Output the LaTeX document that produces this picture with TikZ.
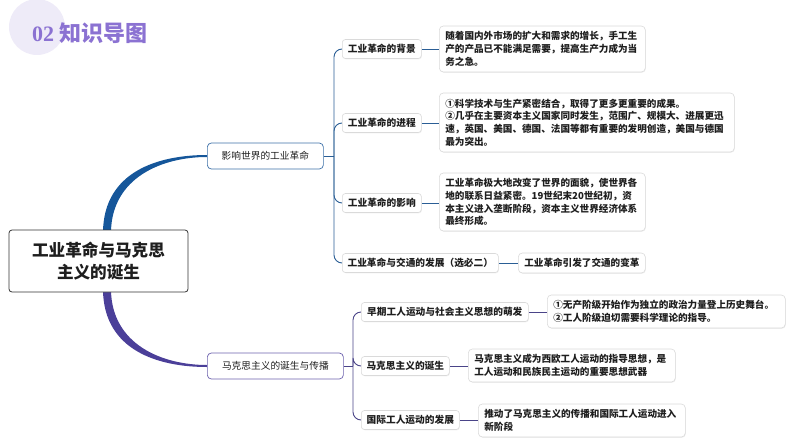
\documentclass[tikz,border=0pt]{standalone}
\usepackage{fontspec}
\setmainfont{Noto Sans CJK SC}
\newfontfamily\numfont{Liberation Serif}
\usetikzlibrary{calc,shadows}
\pgfdeclarelayer{background}
\pgfsetlayers{background,main}
\definecolor{blueA}{HTML}{15569A}
\definecolor{blueL}{HTML}{2A5E95}
\definecolor{blueB}{HTML}{3D70A8}
\definecolor{purA}{HTML}{4B3F99}
\definecolor{purL}{HTML}{4A4488}
\definecolor{purB}{HTML}{6D62AE}
\definecolor{rootc}{HTML}{333333}
\definecolor{boxc}{HTML}{DADADA}
\definecolor{titlec}{HTML}{8B72D2}
\definecolor{circc}{HTML}{EEEBF8}
\definecolor{txt}{HTML}{1E1E1E}
\tikzset{
  rootbox/.style={draw=rootc, line width=0.8pt, rounded corners=3pt, fill=white,
    minimum width=179pt, minimum height=62pt, inner sep=0pt, align=center,
    text=txt, font=\bfseries\fontsize{16.6}{22}\selectfont},
  lvlbox/.style={line width=0.7pt, rounded corners=4pt, fill=white,
    minimum height=26pt, inner sep=0pt, anchor=west, text=txt,
    font=\fontsize{9.7}{12}\selectfont},
  kidbox/.style={draw=boxc, line width=0.6pt, rounded corners=3pt, fill=white,
    minimum height=19pt, inner sep=0pt, anchor=west, text=txt,
    drop shadow={opacity=0.12, shadow xshift=0.6pt, shadow yshift=-0.8pt},
    font=\bfseries\fontsize{9.7}{12}\selectfont},
  detbox/.style={draw=boxc, line width=0.6pt, rounded corners=4pt, fill=white,
    inner xsep=6pt, inner ysep=0pt, anchor=west, align=left, text=txt,
    drop shadow={opacity=0.12, shadow xshift=0.6pt, shadow yshift=-0.8pt},
    font=\bfseries\fontsize{9.6}{12.8}\selectfont},
  linkA/.style={draw=blueL, line width=0.9pt},
  linkB/.style={draw=purL, line width=0.9pt},
}
\begin{document}
\begin{tikzpicture}[x=1pt,y=-1pt]
\useasboundingbox (0,0) rectangle (794,447);
% title
\fill[circc] (37,27) circle (28);
\node[anchor=west, text=titlec, inner sep=0pt, font=\bfseries\fontsize{22}{24}\selectfont] (title) at (32,33) {{\numfont\bfseries 02} 知识导图};

% root
\node[rootbox] (root) at (98.5,261) {工业革命与马克思\\主义的诞生};

% level 1
\node[lvlbox, draw=blueB, minimum width=116pt] (ind) at (207,156) {影响世界的工业革命};
\node[lvlbox, draw=purB, minimum width=136pt] (marx) at (207,366) {马克思主义的诞生与传播};

% level 2 top
\node[kidbox, minimum width=79pt] (bg) at (342,49) {工业革命的背景};
\node[kidbox, minimum width=79pt] (pr) at (342,123) {工业革命的进程};
\node[kidbox, minimum width=79pt] (ef) at (342,203) {工业革命的影响};
\node[kidbox, minimum width=156pt] (tr) at (342,263) {工业革命与交通的发展（选必二）};

% level 2 bottom
\node[kidbox, minimum width=167pt] (early) at (361,312) {早期工人运动与社会主义思想的萌发};
\node[kidbox, minimum width=88pt] (birth) at (361,366) {马克思主义的诞生};
\node[kidbox, minimum width=98pt] (intl) at (361,420) {国际工人运动的发展};

% details
\node[detbox, text width=194pt, minimum height=46pt] (dbg) at (439,49)
  {随着国内外市场的扩大和需求的增长，手工生\\产的产品已不能满足需要，提高生产力成为当\\务之急。};
\node[detbox, text width=283pt, minimum height=59pt] (dpr) at (439,122.5)
  {①科学技术与生产紧密结合，取得了更多更重要的成果。\\②几乎在主要资本主义国家同时发生，范围广、规模大、进展更迅\\速，英国、美国、德国、法国等都有重要的发明创造，美国与德国\\最为突出。};
\node[detbox, text width=194pt, minimum height=58pt] (def) at (439,202)
  {工业革命极大地改变了世界的面貌，使世界各\\地的联系日益紧密。19世纪末20世纪初，资\\本主义进入垄断阶段，资本主义世界经济体系\\最终形成。};
\node[detbox, text width=115pt, minimum height=20pt, align=center] (dtr) at (518,263)
  {工业革命引发了交通的变革};
\node[detbox, text width=226pt, minimum height=33pt] (dearly) at (547,311.5)
  {①无产阶级开始作为独立的政治力量登上历史舞台。\\②工人阶级迫切需要科学理论的指导。};
\node[detbox, text width=195pt, minimum height=33pt] (dbirth) at (468,365.5)
  {马克思主义成为西欧工人运动的指导思想，是\\工人运动和民族民主运动的重要思想武器};
\node[detbox, text width=195pt, minimum height=33pt] (dintl) at (478,420.5)
  {推动了马克思主义的传播和国际工人运动进入\\新阶段};

\begin{pgfonlayer}{background}
  % tapered main branches
  \coordinate (ta) at ($(root.north)+(4.5,2)$);
  \coordinate (tb) at ($(root.north)+(12.5,2)$);
  \fill[blueA] (ta) .. controls ($(ta)+(1,-60)$) and ($(ind.west)+(-49,-1)$) .. ($(ind.west)+(0,-1)$)
     -- ($(ind.west)+(0,1)$) .. controls ($(ind.west)+(-45,1)$) and ($(tb)+(1,-54)$) .. (tb) -- cycle;
  \coordinate (ba) at ($(root.south)+(4.5,-2)$);
  \coordinate (bb) at ($(root.south)+(12.5,-2)$);
  \fill[purA] (ba) .. controls ($(ba)+(1,60)$) and ($(marx.west)+(-49,1)$) .. ($(marx.west)+(0,1)$)
     -- ($(marx.west)+(0,-1)$) .. controls ($(marx.west)+(-45,-1)$) and ($(bb)+(1,54)$) .. (bb) -- cycle;
  % top sub-branches
  \coordinate (j1) at (334,156);
  \draw[linkA] (ind.east) -- (j1);
  \foreach \k in {bg,pr,ef,tr}{
    \draw[linkA, rounded corners=8pt] (j1) -- (j1 |- \k.west) -- (\k.west);
  }
  \draw[linkA] (bg.east) -- (dbg.west |- bg.east);
  \draw[linkA] (pr.east) -- (dpr.west |- pr.east);
  \draw[linkA] (ef.east) -- (def.west |- ef.east);
  \draw[linkA] (tr.east) -- (dtr.west |- tr.east);
  % bottom sub-branches
  \coordinate (j2) at (353,366);
  \draw[linkB] (marx.east) -- (j2);
  \foreach \k in {early,birth,intl}{
    \draw[linkB, rounded corners=8pt] (j2) -- (j2 |- \k.west) -- (\k.west);
  }
  \draw[linkB] (early.east) -- (dearly.west |- early.east);
  \draw[linkB] (birth.east) -- (dbirth.west |- birth.east);
  \draw[linkB] (intl.east) -- (dintl.west |- intl.east);
\end{pgfonlayer}
\end{tikzpicture}
\end{document}
